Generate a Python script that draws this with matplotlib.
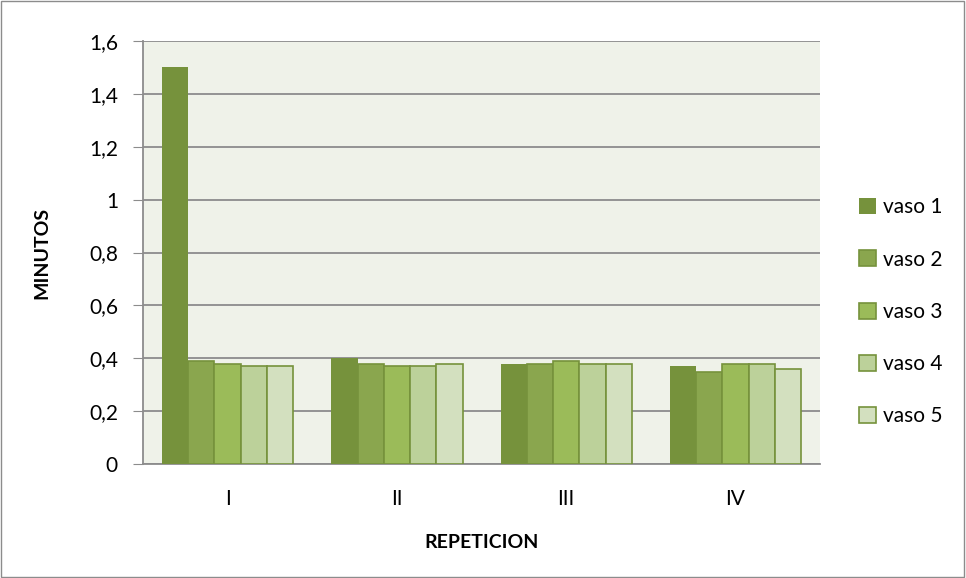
import numpy as np
import matplotlib.pyplot as plt
from matplotlib.patches import Rectangle

plt.rcParams['font.family'] = ['Lato', 'DejaVu Sans']

categories = ['I', 'II', 'III', 'IV']
series_names = ['vaso 1', 'vaso 2', 'vaso 3', 'vaso 4', 'vaso 5']
vaso1 = [1.50, 0.40, 0.38, 0.37]
vaso2 = [0.39, 0.38, 0.38, 0.35]
vaso3 = [0.38, 0.37, 0.39, 0.38]
vaso4 = [0.37, 0.37, 0.38, 0.38]
vaso5 = [0.37, 0.38, 0.38, 0.36]
yticks = [0, 0.2, 0.4, 0.6, 0.8, 1.0, 1.2, 1.4, 1.6]
ytick_labels = ['0', '0,2', '0,4', '0,6', '0,8', '1', '1,2', '1,4', '1,6']

colors = ['#76923C', '#8AA64E', '#9BBB59', '#BCD19A', '#D3E0BF']
edge = '#76923C'

fig = plt.figure(figsize=(9.66, 5.78), dpi=100)
fig.patch.set_facecolor('white')
fig.add_artist(Rectangle((0.001, 0.002), 0.997, 0.996, transform=fig.transFigure,
                         fill=False, edgecolor='#8c8c8c', linewidth=1.0))

ax = fig.add_axes([0.148, 0.197, 0.701, 0.732])
ax.set_facecolor('#EFF2E9')

x = np.arange(len(categories))
group = 0.775
w = group / 5
for i, vals in enumerate([vaso1, vaso2, vaso3, vaso4, vaso5]):
    pos = x - group / 2 + w * (i + 0.5)
    ax.bar(pos, vals, width=w, color=colors[i], edgecolor=edge,
           linewidth=0 if i == 0 else 1.2, label=series_names[i], zorder=3)

ax.set_xlim(-0.5, 3.5)
ax.set_ylim(0, 1.6)
ax.set_yticks(yticks)
ax.set_yticklabels(ytick_labels, fontsize=15)
ax.set_xticks(x)
ax.set_xticklabels(categories, fontsize=15)
ax.tick_params(axis='x', length=0, pad=18)
ax.tick_params(axis='y', length=7, color='#8c8c8c', pad=11)
ax.grid(axis='y', color='#8c8c8c', linewidth=1.3, zorder=0)

for s in ['top', 'right']:
    ax.spines[s].set_visible(False)
for s in ['left', 'bottom']:
    ax.spines[s].set_color('#8c8c8c')
    ax.spines[s].set_linewidth(1.3)

ax.set_ylabel('MINUTOS', fontsize=14, fontweight='bold', labelpad=28)
ax.set_xlabel('REPETICION', fontsize=14, fontweight='bold', labelpad=18)

ax.legend(loc='center left', bbox_to_anchor=(1.03, 0.36), frameon=False,
          fontsize=15, handlelength=0.8, handleheight=0.8, handletextpad=0.35,
          labelspacing=1.55)

fig.savefig('out.png', dpi=100)
